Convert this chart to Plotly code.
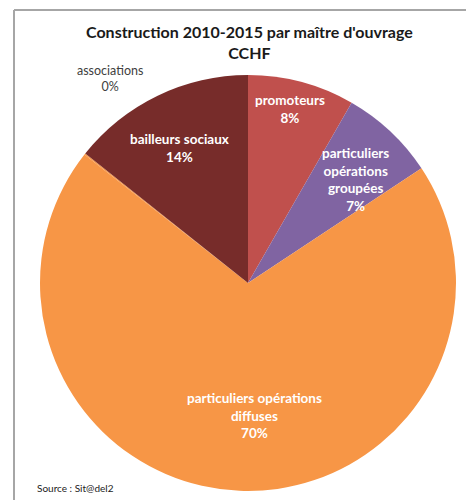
import plotly.graph_objects as go

# Logements commencés 2010-2015 par maître d'ouvrage (CCHF), en % du total
categories = [
    "promoteurs",
    "particuliers opérations groupées",
    "particuliers opérations diffuses",
    "associations",
    "bailleurs sociaux",
]
values = [8.3, 7.4, 69.9, 0.1, 14.3]
colors = ["#C0504D", "#8064A2", "#F79646", "#F79646", "#772C2A"]

# Label text with manual line breaks, as laid out on the chart
label_lines = [
    "promoteurs",
    "particuliers<br>opérations<br>groupées",
    "particuliers opérations<br>diffuses",
    "associations",
    "bailleurs sociaux",
]
# Label anchor positions in pixels (x, y from top) and text colour
label_pos = [(290, 109), (355, 179), (254, 415), (110, 78), (179, 148)]
label_color = ["#FFFFFF", "#FFFFFF", "#FFFFFF", "#404040", "#FFFFFF"]

W, H = 466, 500
total = sum(values)

fig = go.Figure(
    go.Pie(
        labels=categories,
        values=values,
        sort=False,
        direction="clockwise",
        rotation=0,
        marker=dict(colors=colors, line=dict(width=0)),
        textinfo="none",
        hoverinfo="label+percent",
        showlegend=False,
        domain=dict(x=[40 / W, 456 / W], y=[1 - 491 / H, 1 - 75 / H]),
    )
)

annotations = []
for txt, v, (px, py), c in zip(label_lines, values, label_pos, label_color):
    pct = round(100 * v / total)
    inside = c == "#FFFFFF"
    annotations.append(
        dict(
            text=f"{txt}<br>{pct}%",
            x=px / W,
            y=1 - py / H,
            xref="paper",
            yref="paper",
            xanchor="center",
            yanchor="middle",
            showarrow=False,
            align="center",
            font=dict(
                family="Lato, 'Open Sans', sans-serif",
                size=13.5 if inside else 12.5,
                color=c,
                weight="bold" if inside else "normal",
            ),
        )
    )

annotations.append(
    dict(
        text="<b>Construction 2010-2015 par maître d'ouvrage<br>CCHF</b>",
        x=249 / W,
        y=1 - 42 / H,
        xref="paper",
        yref="paper",
        xanchor="center",
        yanchor="middle",
        showarrow=False,
        align="center",
        font=dict(family="Lato, 'Open Sans', sans-serif", size=16, color="#1A1A1A"),
    )
)
annotations.append(
    dict(
        text="Source : Sit@del2",
        x=35 / W,
        y=1 - 488 / H,
        xref="paper",
        yref="paper",
        xanchor="left",
        yanchor="middle",
        showarrow=False,
        font=dict(family="Lato, 'Open Sans', sans-serif", size=10, color="#222222"),
    )
)

# Chart frame (left and top edges)
shapes = [
    dict(type="line", xref="paper", yref="paper",
         x0=14 / W, y0=0, x1=14 / W, y1=1 - 10 / H,
         line=dict(color="#A6A6A6", width=2)),
    dict(type="line", xref="paper", yref="paper",
         x0=14 / W, y0=1 - 10 / H, x1=1, y1=1 - 10 / H,
         line=dict(color="#A6A6A6", width=2)),
]

fig.update_layout(
    width=W,
    height=H,
    margin=dict(l=0, r=0, t=0, b=0),
    paper_bgcolor="white",
    plot_bgcolor="white",
    annotations=annotations,
    shapes=shapes,
)

fig.write_html("out.html")
